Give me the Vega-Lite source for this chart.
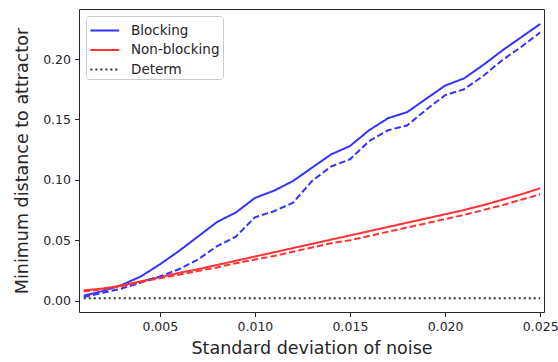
{
  "$schema": "https://vega.github.io/schema/vega-lite/v6.json",
  "width": 465,
  "height": 303,
  "autosize": {"type": "none"},
  "padding": {"left": 79, "top": 9, "right": 14, "bottom": 50},
  "background": "white",
  "config": {
    "view": {"stroke": "#262626", "strokeWidth": 1},
    "font": "DejaVu Sans",
    "axis": {
      "grid": false,
      "domain": false,
      "tickColor": "#262626",
      "tickSize": 4.5,
      "tickWidth": 1,
      "labelFont": "DejaVu Sans",
      "labelFontSize": 12.5,
      "labelColor": "#262626",
      "titleFont": "DejaVu Sans",
      "titleFontSize": 17.5,
      "titleFontWeight": "normal",
      "titleColor": "#262626"
    }
  },
  "data": {"values": [
    {"x":0.001,"s":"Blocking","k":"solid","y":0.004},
    {"x":0.002,"s":"Blocking","k":"solid","y":0.008},
    {"x":0.003,"s":"Blocking","k":"solid","y":0.013},
    {"x":0.004,"s":"Blocking","k":"solid","y":0.020},
    {"x":0.005,"s":"Blocking","k":"solid","y":0.030},
    {"x":0.006,"s":"Blocking","k":"solid","y":0.041},
    {"x":0.007,"s":"Blocking","k":"solid","y":0.053},
    {"x":0.008,"s":"Blocking","k":"solid","y":0.065},
    {"x":0.009,"s":"Blocking","k":"solid","y":0.073},
    {"x":0.010,"s":"Blocking","k":"solid","y":0.085},
    {"x":0.011,"s":"Blocking","k":"solid","y":0.091},
    {"x":0.012,"s":"Blocking","k":"solid","y":0.099},
    {"x":0.013,"s":"Blocking","k":"solid","y":0.110},
    {"x":0.014,"s":"Blocking","k":"solid","y":0.121},
    {"x":0.015,"s":"Blocking","k":"solid","y":0.128},
    {"x":0.016,"s":"Blocking","k":"solid","y":0.141},
    {"x":0.017,"s":"Blocking","k":"solid","y":0.151},
    {"x":0.018,"s":"Blocking","k":"solid","y":0.156},
    {"x":0.019,"s":"Blocking","k":"solid","y":0.167},
    {"x":0.020,"s":"Blocking","k":"solid","y":0.178},
    {"x":0.021,"s":"Blocking","k":"solid","y":0.184},
    {"x":0.022,"s":"Blocking","k":"solid","y":0.195},
    {"x":0.023,"s":"Blocking","k":"solid","y":0.207},
    {"x":0.024,"s":"Blocking","k":"solid","y":0.218},
    {"x":0.025,"s":"Blocking","k":"solid","y":0.229},
    {"x":0.001,"s":"Blocking","k":"dashed","y":0.003},
    {"x":0.002,"s":"Blocking","k":"dashed","y":0.0065},
    {"x":0.003,"s":"Blocking","k":"dashed","y":0.010},
    {"x":0.004,"s":"Blocking","k":"dashed","y":0.015},
    {"x":0.005,"s":"Blocking","k":"dashed","y":0.020},
    {"x":0.006,"s":"Blocking","k":"dashed","y":0.026},
    {"x":0.007,"s":"Blocking","k":"dashed","y":0.034},
    {"x":0.008,"s":"Blocking","k":"dashed","y":0.045},
    {"x":0.009,"s":"Blocking","k":"dashed","y":0.053},
    {"x":0.010,"s":"Blocking","k":"dashed","y":0.069},
    {"x":0.011,"s":"Blocking","k":"dashed","y":0.074},
    {"x":0.012,"s":"Blocking","k":"dashed","y":0.081},
    {"x":0.013,"s":"Blocking","k":"dashed","y":0.099},
    {"x":0.014,"s":"Blocking","k":"dashed","y":0.111},
    {"x":0.015,"s":"Blocking","k":"dashed","y":0.117},
    {"x":0.016,"s":"Blocking","k":"dashed","y":0.132},
    {"x":0.017,"s":"Blocking","k":"dashed","y":0.141},
    {"x":0.018,"s":"Blocking","k":"dashed","y":0.145},
    {"x":0.019,"s":"Blocking","k":"dashed","y":0.158},
    {"x":0.020,"s":"Blocking","k":"dashed","y":0.170},
    {"x":0.021,"s":"Blocking","k":"dashed","y":0.175},
    {"x":0.022,"s":"Blocking","k":"dashed","y":0.186},
    {"x":0.023,"s":"Blocking","k":"dashed","y":0.199},
    {"x":0.024,"s":"Blocking","k":"dashed","y":0.210},
    {"x":0.025,"s":"Blocking","k":"dashed","y":0.222},
    {"x":0.001,"s":"Non-blocking","k":"solid","y":0.0085},
    {"x":0.002,"s":"Non-blocking","k":"solid","y":0.010},
    {"x":0.003,"s":"Non-blocking","k":"solid","y":0.0125},
    {"x":0.004,"s":"Non-blocking","k":"solid","y":0.016},
    {"x":0.005,"s":"Non-blocking","k":"solid","y":0.0195},
    {"x":0.006,"s":"Non-blocking","k":"solid","y":0.023},
    {"x":0.007,"s":"Non-blocking","k":"solid","y":0.026},
    {"x":0.008,"s":"Non-blocking","k":"solid","y":0.0295},
    {"x":0.009,"s":"Non-blocking","k":"solid","y":0.033},
    {"x":0.010,"s":"Non-blocking","k":"solid","y":0.0365},
    {"x":0.011,"s":"Non-blocking","k":"solid","y":0.040},
    {"x":0.012,"s":"Non-blocking","k":"solid","y":0.0435},
    {"x":0.013,"s":"Non-blocking","k":"solid","y":0.047},
    {"x":0.014,"s":"Non-blocking","k":"solid","y":0.0505},
    {"x":0.015,"s":"Non-blocking","k":"solid","y":0.054},
    {"x":0.016,"s":"Non-blocking","k":"solid","y":0.0575},
    {"x":0.017,"s":"Non-blocking","k":"solid","y":0.061},
    {"x":0.018,"s":"Non-blocking","k":"solid","y":0.0645},
    {"x":0.019,"s":"Non-blocking","k":"solid","y":0.068},
    {"x":0.020,"s":"Non-blocking","k":"solid","y":0.0715},
    {"x":0.021,"s":"Non-blocking","k":"solid","y":0.075},
    {"x":0.022,"s":"Non-blocking","k":"solid","y":0.079},
    {"x":0.023,"s":"Non-blocking","k":"solid","y":0.0835},
    {"x":0.024,"s":"Non-blocking","k":"solid","y":0.088},
    {"x":0.025,"s":"Non-blocking","k":"solid","y":0.093},
    {"x":0.001,"s":"Non-blocking","k":"dashed","y":0.0075},
    {"x":0.002,"s":"Non-blocking","k":"dashed","y":0.0095},
    {"x":0.003,"s":"Non-blocking","k":"dashed","y":0.012},
    {"x":0.004,"s":"Non-blocking","k":"dashed","y":0.0155},
    {"x":0.005,"s":"Non-blocking","k":"dashed","y":0.0185},
    {"x":0.006,"s":"Non-blocking","k":"dashed","y":0.0215},
    {"x":0.007,"s":"Non-blocking","k":"dashed","y":0.0245},
    {"x":0.008,"s":"Non-blocking","k":"dashed","y":0.0275},
    {"x":0.009,"s":"Non-blocking","k":"dashed","y":0.031},
    {"x":0.010,"s":"Non-blocking","k":"dashed","y":0.034},
    {"x":0.011,"s":"Non-blocking","k":"dashed","y":0.037},
    {"x":0.012,"s":"Non-blocking","k":"dashed","y":0.0405},
    {"x":0.013,"s":"Non-blocking","k":"dashed","y":0.044},
    {"x":0.014,"s":"Non-blocking","k":"dashed","y":0.0475},
    {"x":0.015,"s":"Non-blocking","k":"dashed","y":0.050},
    {"x":0.016,"s":"Non-blocking","k":"dashed","y":0.0535},
    {"x":0.017,"s":"Non-blocking","k":"dashed","y":0.057},
    {"x":0.018,"s":"Non-blocking","k":"dashed","y":0.0605},
    {"x":0.019,"s":"Non-blocking","k":"dashed","y":0.064},
    {"x":0.020,"s":"Non-blocking","k":"dashed","y":0.0675},
    {"x":0.021,"s":"Non-blocking","k":"dashed","y":0.071},
    {"x":0.022,"s":"Non-blocking","k":"dashed","y":0.075},
    {"x":0.023,"s":"Non-blocking","k":"dashed","y":0.079},
    {"x":0.024,"s":"Non-blocking","k":"dashed","y":0.0835},
    {"x":0.025,"s":"Non-blocking","k":"dashed","y":0.088},
    {"x":0.001,"s":"Determ","k":"solid","y":0.002},
    {"x":0.002,"s":"Determ","k":"solid","y":0.002},
    {"x":0.003,"s":"Determ","k":"solid","y":0.002},
    {"x":0.004,"s":"Determ","k":"solid","y":0.002},
    {"x":0.005,"s":"Determ","k":"solid","y":0.002},
    {"x":0.006,"s":"Determ","k":"solid","y":0.002},
    {"x":0.007,"s":"Determ","k":"solid","y":0.002},
    {"x":0.008,"s":"Determ","k":"solid","y":0.002},
    {"x":0.009,"s":"Determ","k":"solid","y":0.002},
    {"x":0.010,"s":"Determ","k":"solid","y":0.002},
    {"x":0.011,"s":"Determ","k":"solid","y":0.002},
    {"x":0.012,"s":"Determ","k":"solid","y":0.002},
    {"x":0.013,"s":"Determ","k":"solid","y":0.002},
    {"x":0.014,"s":"Determ","k":"solid","y":0.002},
    {"x":0.015,"s":"Determ","k":"solid","y":0.002},
    {"x":0.016,"s":"Determ","k":"solid","y":0.002},
    {"x":0.017,"s":"Determ","k":"solid","y":0.002},
    {"x":0.018,"s":"Determ","k":"solid","y":0.002},
    {"x":0.019,"s":"Determ","k":"solid","y":0.002},
    {"x":0.020,"s":"Determ","k":"solid","y":0.002},
    {"x":0.021,"s":"Determ","k":"solid","y":0.002},
    {"x":0.022,"s":"Determ","k":"solid","y":0.002},
    {"x":0.023,"s":"Determ","k":"solid","y":0.002},
    {"x":0.024,"s":"Determ","k":"solid","y":0.002},
    {"x":0.025,"s":"Determ","k":"solid","y":0.002}
  ]},
  "encoding": {
    "x": {
      "field": "x", "type": "quantitative",
      "scale": {"domain": [0.00075, 0.0252], "nice": false, "zero": false},
      "axis": {"values": [0.005, 0.010, 0.015, 0.020, 0.025], "format": ".3f", "title": "Standard deviation of noise", "labelPadding": 4, "titlePadding": 6, "labelFlush": false}
    },
    "y": {
      "field": "y", "type": "quantitative",
      "scale": {"domain": [-0.0094, 0.2414], "nice": false, "zero": false},
      "axis": {"values": [0, 0.05, 0.10, 0.15, 0.20], "format": ".2f", "title": "Minimum distance to attractor", "labelPadding": 4, "titlePadding": 11, "labelFlush": false}
    }
  },
  "layer": [
    {
      "transform": [{"filter": "datum.k === 'solid'"}],
      "mark": {"type": "line", "strokeWidth": 2},
      "encoding": {
        "color": {
          "field": "s", "type": "nominal",
          "scale": {"domain": ["Blocking", "Non-blocking", "Determ"], "range": ["#3333ff", "#ff3333", "#333333"]},
          "legend": {
            "title": null,
            "orient": "top-left",
            "offset": 7,
            "symbolType": "M-0.97,0H1.79",
            "symbolSize": 441,
            "symbolStrokeWidth": 2,
            "labelFont": "DejaVu Sans",
            "labelFontSize": 13.5,
            "labelColor": "#262626",
            "labelOffset": 19,
            "rowPadding": 1.5,
            "padding": 3,
            "fillColor": "rgba(255,255,255,0.8)",
            "strokeColor": "#cccccc",
            "cornerRadius": 3
          }
        },
        "strokeDash": {
          "field": "s", "type": "nominal",
          "scale": {"domain": ["Blocking", "Non-blocking", "Determ"], "range": [[1, 0], [1, 0], [2, 3]]},
          "legend": null
        }
      }
    },
    {
      "transform": [{"filter": "datum.k === 'dashed'"}],
      "mark": {"type": "line", "strokeWidth": 2, "strokeDash": [6.5, 3]},
      "encoding": {
        "color": {"field": "s", "type": "nominal", "legend": null}
      }
    }
  ]
}
